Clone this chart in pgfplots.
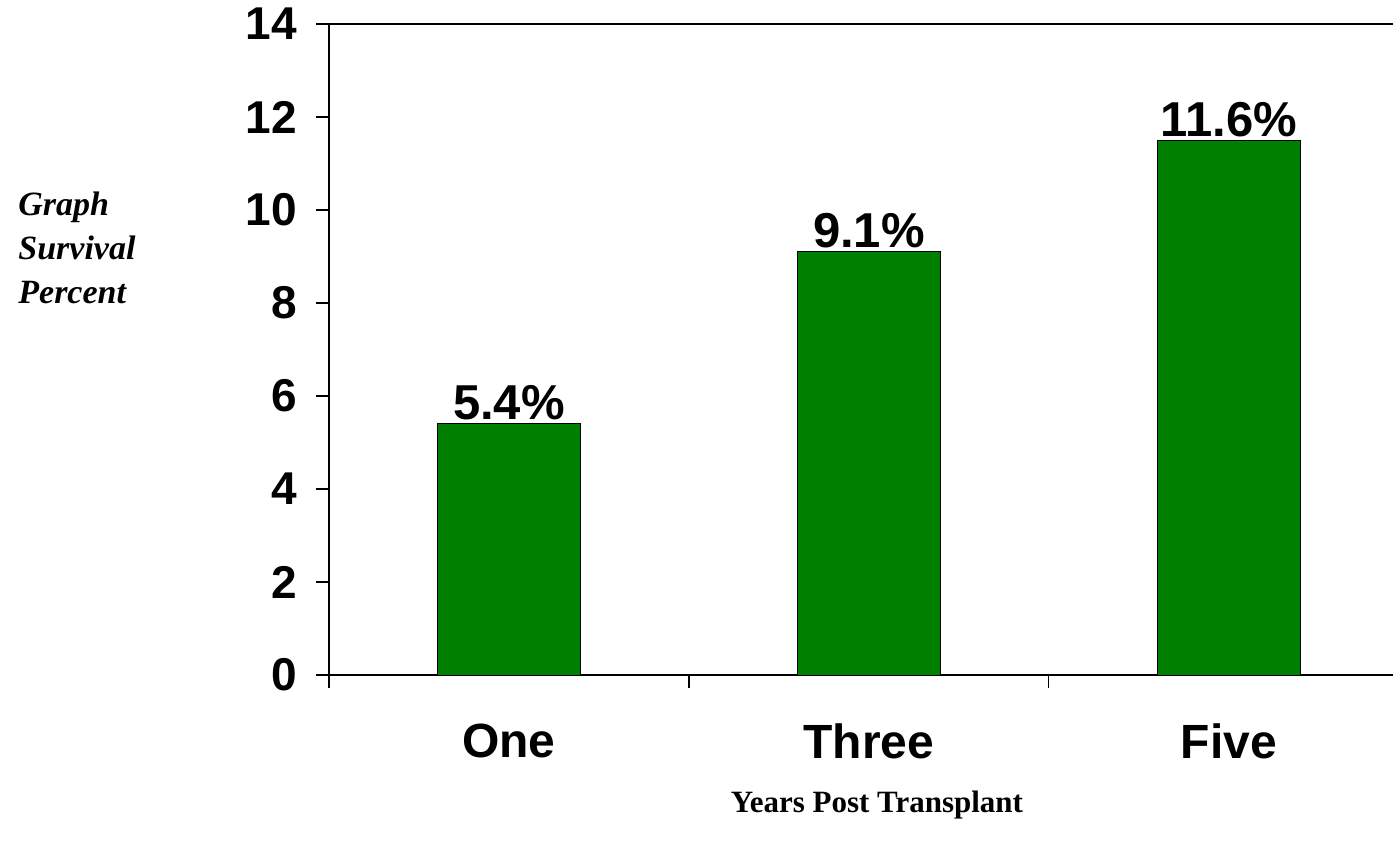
\documentclass[border=0pt]{standalone}
\usepackage{pgfplots}
\pgfplotsset{compat=1.18}
\usepackage{fontspec}
\setmainfont{Liberation Serif}
\newfontfamily\arial{Liberation Sans}
\definecolor{bargreen}{RGB}{0,128,0}

\begin{document}
\begin{tikzpicture}
\begin{axis}[
  name=ax,
  width=532pt, height=325.5pt,
  scale only axis,
  axis x line*=bottom, axis y line*=left,
  axis line style={line width=0.6pt, -},
  xmin=-0.5, xmax=2.456,
  ymin=0, ymax=14,
  ytick={0,2,...,14},
  xtick={-0.5,0.5,1.5},
  xticklabels={},
  extra x ticks={0,1,2},
  extra x tick labels={One,Three,Five},
  extra x tick style={major tick length=0pt,
    tick label style={font=\arial\bfseries\fontsize{24}{28}\selectfont, yshift=-21pt}},
  tick align=outside,
  major tick length=6.5pt,
  tick style={line width=0.6pt, black},
  yticklabel style={font=\arial\bfseries\fontsize{23}{27}\selectfont, xshift=-6pt},
  /pgf/number format/assume math mode=true,
  ybar, bar width=71.5pt,
  point meta=explicit symbolic,
  nodes near coords,
  nodes near coords style={font=\arial\bfseries\fontsize{24.5}{28}\selectfont, anchor=south, inner sep=0pt, yshift=1.5pt},
  xlabel={Years Post Transplant},
  xlabel style={font=\bfseries\fontsize{15.5}{18}\selectfont, at={(axis description cs:0.515,0)}, anchor=base, yshift=-68.5pt},
  ylabel={Graph\\Survival\\Percent},
  ylabel style={font=\bfseries\itshape\fontsize{17}{22}\selectfont, rotate=-90, align=left, inner sep=0pt,
    at={(axis description cs:0,0.656)}, anchor=west, xshift=-155.5pt},
  clip=false,
]
\addplot[fill=bargreen, draw=black, line width=0.5pt] coordinates {(0,5.4) [5.4\%] (1,9.1) [9.1\%] (2,11.5) [11.6\%]};
\draw[line width=0.6pt] (rel axis cs:0,1) -- (rel axis cs:1,1);
\end{axis}
\pgfresetboundingbox
\path[use as bounding box] ([shift={(-164.5pt,-86pt)}]ax.south west) rectangle ([shift={(0.5pt,12pt)}]ax.north east);
\end{tikzpicture}
\end{document}
